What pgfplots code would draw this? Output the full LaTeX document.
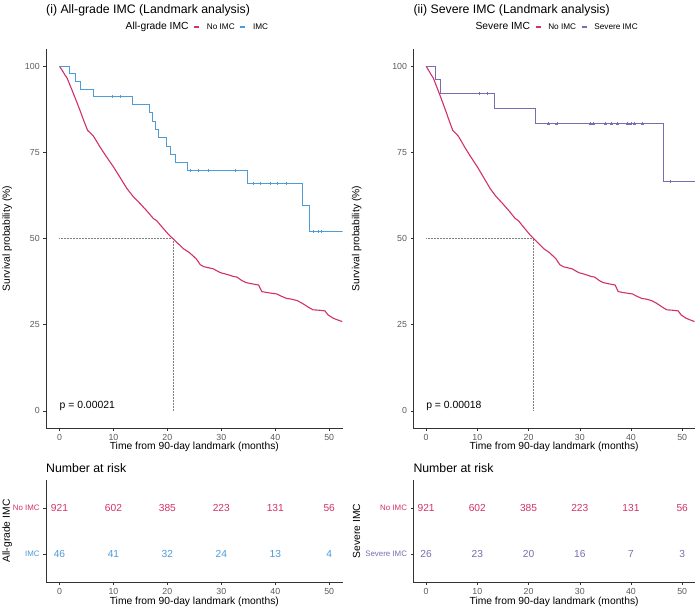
\documentclass[border=0pt]{standalone}
\usepackage{pgfplots}
\usepackage{pgfplotstable}
\usepackage{fontspec}
\setmainfont{Liberation Sans}
\pgfplotsset{compat=1.18}
\definecolor{NoImc}{HTML}{D2306B}
\definecolor{Imc}{HTML}{4E9BD5}
\definecolor{Severe}{HTML}{7A6CAF}
\definecolor{TickGray}{HTML}{5A5A5A}
\definecolor{AxisInk}{HTML}{333333}
\newcommand\fs[1]{\fontsize{#1}{#1}\selectfont}

% No IMC (same curve in both panels)
\pgfplotstableread{
t s
0 100
0.5 98.8
1.0 97.5
1.4 96.6
2.0 94.3
2.6 92.0
3.2 89.6
3.8 87.2
4.5 84.2
5.2 81.4
5.8 80.5
6.3 79.7
7.0 77.9
7.5 76.6
8.5 74.2
10.0 70.8
11.2 67.8
12.5 64.5
13.6 62.3
14.9 60.2
16.2 58.0
17.4 55.8
18.0 55.2
19.2 53.0
20.2 51.2
21.0 50.0
22.0 48.5
23.0 47.0
24.0 46.0
24.8 44.9
25.4 44.0
26.1 42.4
26.8 41.8
28.5 41.2
29.8 40.1
31.0 39.6
32.2 39.0
32.9 38.8
33.8 37.8
34.6 37.2
35.5 36.9
36.9 36.5
37.5 34.6
38.5 34.3
40.3 33.9
41.2 33.2
42.1 32.6
43.0 32.4
44.0 32.0
45.0 31.2
46.2 30.0
47.0 29.3
48.0 29.2
49.2 29.0
49.8 27.8
50.7 26.9
51.5 26.4
52.4 25.9
}\noimc

\pgfplotstableread{
t s
0 100
1.85 97.8
2.9 95.7
3.8 93.4
6.3 91.2
13.6 88.8
16.6 86.5
17.3 84.1
17.85 81.6
18.3 79.3
19.9 76.8
20.6 74.4
21.4 72.0
23.8 69.7
34.9 66.1
45.1 59.5
46.4 52.1
52.5 52.1
}\imc

\pgfplotstableread{
t s
9.8 91.2
11.2 91.2
24.2 69.7
25.7 69.7
27.6 69.7
32.5 69.7
35.9 66.1
37.2 66.1
39.0 66.1
40.3 66.1
42.1 66.1
47.1 52.1
47.9 52.1
48.6 52.1
}\imccens

\pgfplotstableread{
t s
0 100
1.83 96.2
2.8 92.1
13.4 87.7
21.4 83.3
46.4 66.6
52.5 66.6
}\severe

\pgfplotstableread{
t s
10.3 92.1
12.0 92.1
23.8 83.3
25.5 83.3
32.0 83.3
32.6 83.3
35.0 83.3
36.1 83.3
37.3 83.3
39.3 83.3
40.0 83.3
40.7 83.3
42.2 83.3
47.7 66.6
}\severecens

\pgfplotsset{
  kmbase/.style={
    scale only axis,
    axis x line*=bottom, axis y line*=left,
    axis line style={-, AxisInk, line width=0.6pt},
    tick align=outside, major tick length=2.8pt,
    tick style={AxisInk, line width=0.5pt},
    xmin=-2.5, xmax=52.5, xtick={0,10,20,30,40,50},
    /pgf/number format/assume math mode=true,
    ticklabel style={font=\fs{8.8}, text=TickGray},
    label style={font=\fs{10.3}, text=black},
    xlabel={Time from 90-day landmark (months)},
  },
  kmmain/.style={
    kmbase, anchor=south west, height=379pt,
    ymin=-5, ymax=105, ytick={0,25,50,75,100},
    ylabel={Survival probability (\%)},
    xlabel style={at={(axis description cs:0.5,0)}, anchor=center, yshift=-18.7pt},
    legend columns=-1,
    legend style={draw=none, fill=none, at={(0.5,1.058)}, anchor=center, font=\fs{8.2},
      /tikz/every even column/.append style={column sep=3pt},
      /tikz/every odd column/.append style={column sep=5pt}},
    legend image code/.code={\draw[#1] (0pt,0pt) -- (5pt,0pt);},
  },
  kmrisk/.style={
    kmbase, anchor=south west, height=102pt,
    ymin=0.4, ymax=2.6, ytick={1,2},
    yticklabel style={font=\fs{7.9}},
    xlabel style={at={(axis description cs:0.5,0)}, anchor=center, yshift=-20pt},
  },
  riskrow/.style={draw=none, nodes near coords, point meta=explicit symbolic,
    every node near coord/.append style={anchor=center, font=\fs{10.2}, text=#1}},
}

\begin{document}
\begin{tikzpicture}
\useasboundingbox (0pt,0pt) rectangle (700pt,611pt);

% ---------- (i) all-grade ----------
\node[anchor=west, font=\fs{12.3}, inner sep=0] at (46pt,601pt) {(i) All-grade IMC (Landmark analysis)};
\begin{axis}[kmmain, at={(46pt,183pt)}, width=296.7pt,
  ylabel style={at={(axis description cs:-0.131,0.5)}, anchor=center}]
\addlegendimage{empty legend}
\addlegendentry{\fs{10.3}All-grade IMC}
\addlegendimage{draw=NoImc, line width=1.3pt}
\addlegendentry{No IMC}
\addlegendimage{draw=Imc, line width=1.3pt}
\addlegendentry{IMC}
\addplot[gray, densely dotted, line width=0.5pt, forget plot] coordinates {(0,50) (21,50) (21,0)};
\addplot[NoImc, line width=1.1pt, forget plot] table[x=t, y=s] {\noimc};
\addplot[Imc, line width=0.8pt, const plot, forget plot] table[x=t, y=s] {\imc};
\addplot[Imc, only marks, mark=+, mark size=1.5pt, line width=0.4pt, forget plot] table[x=t, y=s] {\imccens};
\node[anchor=west, inner sep=0, font=\fs{10.4}] at (axis cs:0,1.5) {p = 0.00021};
\end{axis}

\node[anchor=west, font=\fs{12.3}, inner sep=0] at (46pt,143pt) {Number at risk};
\begin{axis}[kmrisk, at={(46pt,29pt)}, width=296.7pt,
  yticklabels={\textcolor{Imc}{IMC}, \textcolor{NoImc}{No IMC}},
  ylabel={All-grade IMC},
  ylabel style={at={(axis description cs:-0.131,0.5)}, anchor=center}]
\addplot[riskrow=NoImc] coordinates {(0,2) [921] (10,2) [602] (20,2) [385] (30,2) [223] (40,2) [131] (50,2) [56]};
\addplot[riskrow=Imc] coordinates {(0,1) [46] (10,1) [41] (20,1) [32] (30,1) [24] (40,1) [13] (50,1) [4]};
\end{axis}

% ---------- (ii) severe ----------
\node[anchor=west, font=\fs{12.3}, inner sep=0] at (413.3pt,601pt) {(ii) Severe IMC (Landmark analysis)};
\begin{axis}[kmmain, at={(413.3pt,183pt)}, width=281.7pt,
  ylabel style={at={(axis description cs:-0.201,0.5)}, anchor=center}]
\addlegendimage{empty legend}
\addlegendentry{\fs{10.3}Severe IMC}
\addlegendimage{draw=NoImc, line width=1.3pt}
\addlegendentry{No IMC}
\addlegendimage{draw=Severe, line width=1.3pt}
\addlegendentry{Severe IMC}
\addplot[gray, densely dotted, line width=0.5pt, forget plot] coordinates {(0,50) (21,50) (21,0)};
\addplot[NoImc, line width=1.1pt, forget plot] table[x=t, y=s] {\noimc};
\addplot[Severe, line width=0.8pt, const plot, forget plot] table[x=t, y=s] {\severe};
\addplot[Severe, only marks, mark=+, mark size=1.5pt, line width=0.4pt, forget plot] table[x=t, y=s] {\severecens};
\node[anchor=west, inner sep=0, font=\fs{10.4}] at (axis cs:0,1.5) {p = 0.00018};
\end{axis}

\node[anchor=west, font=\fs{12.3}, inner sep=0] at (413.3pt,143pt) {Number at risk};
\begin{axis}[kmrisk, at={(413.3pt,29pt)}, width=281.7pt,
  yticklabels={\textcolor{Severe}{Severe IMC}, \textcolor{NoImc}{No IMC}},
  ylabel={Severe IMC},
  ylabel style={at={(axis description cs:-0.201,0.5)}, anchor=center}]
\addplot[riskrow=NoImc] coordinates {(0,2) [921] (10,2) [602] (20,2) [385] (30,2) [223] (40,2) [131] (50,2) [56]};
\addplot[riskrow=Severe] coordinates {(0,1) [26] (10,1) [23] (20,1) [20] (30,1) [16] (40,1) [7] (50,1) [3]};
\end{axis}
\end{tikzpicture}
\end{document}
